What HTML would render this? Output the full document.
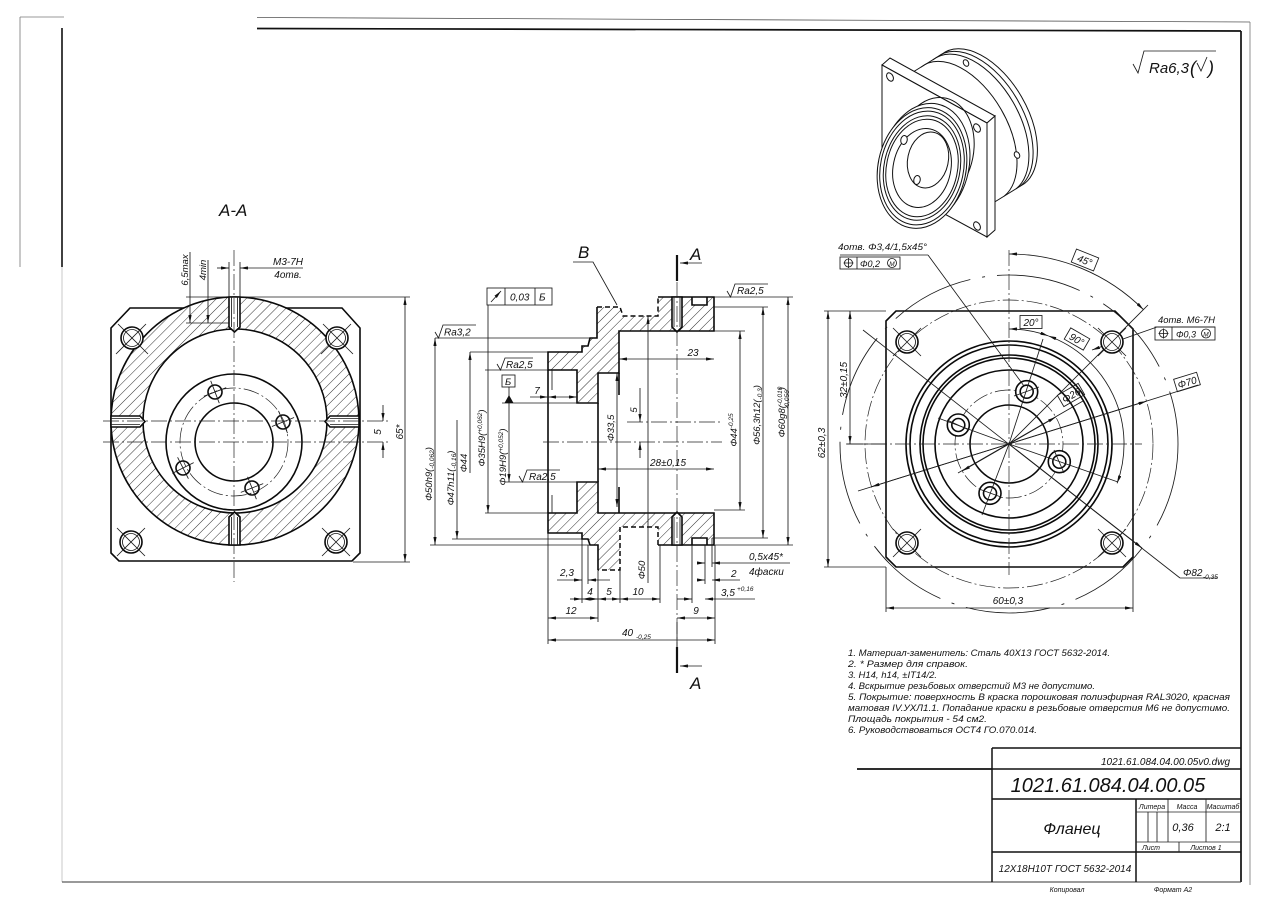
<!DOCTYPE html>
<html><head><meta charset="utf-8"><title>Фланец</title>
<style>
html,body{margin:0;padding:0;background:#fff;width:1280px;height:905px;overflow:hidden}
svg{display:block}
text{font-family:"Liberation Sans","DejaVu Sans",sans-serif;font-style:italic;fill:#111}
.k{stroke:#0a0a0a;stroke-width:1.6;fill:none}
.t{stroke:#1a1a1a;stroke-width:0.85;fill:none}
.c{stroke:#222;stroke-width:0.7;fill:none;stroke-dasharray:16 3 2 3}
.d{stroke:#0a0a0a;stroke-width:1.5;fill:none;stroke-dasharray:5 3}
.w{fill:#fff}
</style></head><body>
<svg width="1280" height="905" viewBox="0 0 1280 905" xmlns="http://www.w3.org/2000/svg">
<defs>
<marker id="a" viewBox="0 0 10 4" refX="10" refY="2" markerWidth="8" markerHeight="3.2" markerUnits="userSpaceOnUse" orient="auto-start-reverse"><path d="M0,0 L10,2 L0,4 z" fill="#111"/></marker>
<pattern id="h" width="7" height="7" patternUnits="userSpaceOnUse" patternTransform="rotate(45)"><line x1="0" y1="0" x2="0" y2="7" stroke="#1a1a1a" stroke-width="0.9"/></pattern>
</defs>

<!-- FRAME -->
<line x1="257" y1="17.5" x2="1250" y2="22" stroke="#555" stroke-width="0.8"/>
<line x1="257" y1="28.5" x2="1241" y2="31" stroke="#111" stroke-width="1.7"/>
<line x1="1241" y1="31" x2="1241" y2="882" stroke="#111" stroke-width="1.7"/>
<line x1="1250" y1="22" x2="1250" y2="885" stroke="#777" stroke-width="0.8"/>
<line x1="20" y1="17" x2="64" y2="17" stroke="#777" stroke-width="0.8"/>
<line x1="20" y1="17" x2="20" y2="267" stroke="#777" stroke-width="0.8"/>
<line x1="62" y1="28" x2="62" y2="267" stroke="#111" stroke-width="1.6"/>
<line x1="62" y1="267" x2="62" y2="882" stroke="#bbb" stroke-width="0.8"/>
<line x1="62" y1="882" x2="1241" y2="882" stroke="#333" stroke-width="1.1"/>

<!-- ===== A-A VIEW ===== -->
<text x="219" y="216" font-size="17">А-А</text>
<path class="k" d="M111,328 L130,308 L342,308 L360,328 L360,553 L352,561 L119,561 L111,553 Z"/>
<path d="M111,421 a124,124 0 1,0 248,0 a124,124 0 1,0 -248,0 Z M143,421 a92,92 0 1,0 184,0 a92,92 0 1,0 -184,0 Z" fill="#fff" fill-rule="evenodd"/>
<path d="M111,421 a124,124 0 1,0 248,0 a124,124 0 1,0 -248,0 Z M143,421 a92,92 0 1,0 184,0 a92,92 0 1,0 -184,0 Z" fill="url(#h)" fill-rule="evenodd" stroke="#0a0a0a" stroke-width="1.6"/>
<!-- M3 holes -->
<path class="k w" stroke-width="1.2" d="M229,297 L229,327 L234.5,332 L240,327 L240,297 Z"/>
<path class="t" d="M231.5,297 V327 M237.5,297 V327"/>
<path class="k w" stroke-width="1.2" d="M229,545 L229,517 L234.5,512 L240,517 L240,545 Z"/>
<path class="t" d="M231.5,545 V517 M237.5,545 V517"/>
<path class="k w" stroke-width="1.2" d="M111,416 L140,416 L145,421.5 L140,427 L111,427 Z"/>
<path class="t" d="M111,418.5 H140 M111,424.5 H140"/>
<path class="k w" stroke-width="1.2" d="M359,416 L330,416 L325,421.5 L330,427 L359,427 Z"/>
<path class="t" d="M359,418.5 H330 M359,424.5 H330"/>
<!-- inner circles -->
<circle cx="234" cy="442" r="68" class="k"/>
<circle cx="234" cy="442" r="39" class="k"/>
<circle cx="234" cy="442" r="54" class="c" stroke-dasharray="10 4 2 4"/>
<g class="k" stroke-width="1.2">
<circle cx="215" cy="392" r="7"/><circle cx="283" cy="422" r="7"/><circle cx="183" cy="468" r="7"/><circle cx="252" cy="488" r="7"/>
</g>
<g class="t">
<path d="M210.7,380.8 L219.3,403.2 M203.8,396.3 L226.2,387.7"/>
<path d="M271.9,426.5 L294.1,417.5 M278.5,410.9 L287.5,433.1"/>
<path d="M172.3,473.4 L193.7,462.6 M177.6,457.3 L188.4,478.7"/>
<path d="M247.6,476.8 L256.4,499.2 M240.8,492.4 L263.2,483.6"/>
</g>
<!-- corner holes -->
<g class="k w" stroke-width="1.2">
<circle cx="132" cy="338" r="11"/><circle cx="337" cy="338" r="11"/><circle cx="131" cy="542" r="11"/><circle cx="336" cy="542" r="11"/>
</g>
<g class="t">
<circle cx="132" cy="338" r="8.5"/><circle cx="337" cy="338" r="8.5"/><circle cx="131" cy="542" r="8.5"/><circle cx="336" cy="542" r="8.5"/>
<path d="M118,324 L148,354 M146,324 L116,354"/>
<path d="M323,324 L353,354 M351,324 L321,354"/>
<path d="M117,528 L145,556 M145,528 L117,556"/>
<path d="M322,528 L350,556 M350,528 L322,556"/>
</g>
<!-- center lines -->
<line x1="234" y1="250" x2="234" y2="582" class="c"/>
<line x1="103" y1="421" x2="388" y2="421" class="c"/>
<line x1="103" y1="442" x2="388" y2="442" class="c"/>
<!-- dims A-A -->
<g class="t">
<line x1="186" y1="297" x2="410" y2="297"/>
<line x1="186" y1="323" x2="229" y2="323"/>
<line x1="353" y1="562" x2="410" y2="562"/>
<line x1="229" y1="262" x2="229" y2="297"/>
<line x1="240" y1="262" x2="240" y2="297"/>
<line x1="217" y1="268" x2="229" y2="268" marker-end="url(#a)"/>
<line x1="303" y1="268" x2="240" y2="268" marker-end="url(#a)"/>
<line x1="190" y1="252" x2="190" y2="323" marker-end="url(#a)"/>
<line x1="208" y1="260" x2="208" y2="323" marker-end="url(#a)"/>
<line x1="405" y1="297" x2="405" y2="562" marker-start="url(#a)" marker-end="url(#a)"/>
<line x1="383" y1="405" x2="383" y2="421" marker-end="url(#a)"/>
<line x1="383" y1="458" x2="383" y2="442" marker-end="url(#a)"/>
</g>
<text x="288" y="265" font-size="10" text-anchor="middle">М3-7Н</text>
<text x="288" y="278" font-size="10" text-anchor="middle">4отв.</text>
<text transform="translate(188,270) rotate(-90)" font-size="9.5" text-anchor="middle">6,5max</text>
<text transform="translate(206,270) rotate(-90)" font-size="9.5" text-anchor="middle">4min</text>
<text transform="translate(403,432) rotate(-90)" font-size="10" text-anchor="middle">65*</text>
<text transform="translate(381,432) rotate(-90)" font-size="10" text-anchor="middle">5</text>

<!-- ===== SECTION VIEW ===== -->
<path d="M548,352 L582,352 L582,346 L588,346 L590,338 L597,338 L597,307 L620,307 L623,316 L658,316 L658,297 L714,297 L714,331 L619,331 L619,373 L598,373 L598,403 L577,403 L577,370 L548,370 Z" fill="url(#h)"/>
<path d="M548,513 L577,513 L577,482 L598,482 L598,513 L714,513 L714,545 L658,545 L658,527 L620,527 L620,570 L598,570 L598,545 L590,545 L588,539 L582,539 L582,533 L548,533 Z" fill="url(#h)"/>
<rect x="692" y="297" width="15" height="8" fill="#fff"/>
<rect x="692" y="538" width="15" height="7" fill="#fff"/>
<path class="k" stroke-width="1.1" d="M692,297 L692,305 L707,305 L707,297 M692,545 L692,538 L707,538 L707,545"/>
<path class="k" d="M658,297 L714,297 L714,331 L619,331 L619,373 L598,373 L598,403 L577,403 L577,370 L548,370 L548,352 L582,352 L582,346 L588,346 L590,338 L597,338 L597,307"/>
<path class="d" d="M597,307 L620,307 L623,316 L658,316 L658,297"/>
<path class="k" d="M598,570 L598,545 L590,545 L588,539 L582,539 L582,533 L548,533 L548,513 L577,513 L577,482 L598,482 L598,513 L714,513 L714,545 L658,545"/>
<path class="d" d="M658,545 L658,527 L620,527 L620,570 L598,570"/>
<path class="k" d="M548,370 L548,513"/>
<!-- M6 holes -->
<path class="k w" stroke-width="1.2" d="M672,297 L672,327 L677,332 L682,327 L682,297 Z"/>
<path class="t" d="M674,297 V327 M680,297 V327"/>
<path class="k w" stroke-width="1.2" d="M672,545 L672,517 L677,512 L682,517 L682,545 Z"/>
<path class="t" d="M674,545 V517 M680,545 V517"/>
<!-- inner visible edges -->
<path class="k" stroke-width="1.2" d="M619,373 V395 M619,487 V513 M598,403 V482"/>
<path class="t" d="M552,370 V390 M552,495 V513"/>
<!-- center lines -->
<line x1="677" y1="282" x2="677" y2="648" class="c"/>
<line x1="543" y1="442" x2="722" y2="442" class="c"/>
<line x1="627" y1="422" x2="722" y2="422" class="c"/>
<!-- section marks -->
<path d="M677,255 V281 M677,647 V673" stroke="#111" stroke-width="2.2"/>
<line x1="702" y1="263" x2="680" y2="263" class="t" marker-end="url(#a)"/>
<line x1="702" y1="666" x2="680" y2="666" class="t" marker-end="url(#a)"/>
<text x="690" y="260" font-size="17">А</text>
<text x="690" y="689" font-size="17">А</text>
<text x="578" y="258" font-size="17">В</text>
<path class="t" d="M573,262 L593,262 L617,305"/>
<!-- runout frame -->
<rect x="487" y="288" width="65" height="17" class="t" stroke-width="1"/>
<path class="t" stroke-width="1" d="M505,288 V305 M535,288 V305"/>
<line x1="491" y1="302" x2="501" y2="291" class="t" stroke-width="1" marker-end="url(#a)"/>
<text x="510" y="300.5" font-size="10">0,03</text>
<text x="539" y="300.5" font-size="10">Б</text>
<!-- left dims -->
<g class="t">
<line x1="488" y1="305" x2="488" y2="513" marker-end="url(#a)"/>
<line x1="435" y1="338" x2="590" y2="338"/>
<line x1="435" y1="338" x2="435" y2="545" marker-start="url(#a)" marker-end="url(#a)"/>
<line x1="430" y1="545" x2="590" y2="545"/>
<line x1="457" y1="420" x2="457" y2="539" marker-end="url(#a)"/>
<line x1="452" y1="539" x2="582" y2="539"/>
<line x1="470" y1="352" x2="548" y2="352"/>
<line x1="470" y1="352" x2="470" y2="473" marker-start="url(#a)"/>
<line x1="485" y1="370" x2="548" y2="370"/>
<line x1="485" y1="513" x2="548" y2="513"/>
<line x1="502" y1="403" x2="598" y2="403"/>
<line x1="505" y1="482" x2="598" y2="482"/>
<line x1="509" y1="403" x2="509" y2="482" marker-end="url(#a)"/>
<line x1="530" y1="397" x2="548" y2="397" marker-end="url(#a)"/>
<line x1="548" y1="397" x2="577" y2="397" marker-start="url(#a)" marker-end="url(#a)"/>
<line x1="617" y1="373" x2="617" y2="507" marker-start="url(#a)" marker-end="url(#a)"/>
<line x1="640" y1="388" x2="640" y2="422" marker-end="url(#a)"/>
<line x1="640" y1="458" x2="640" y2="442" marker-end="url(#a)"/>
<line x1="619" y1="359" x2="714" y2="359" marker-start="url(#a)" marker-end="url(#a)"/>
<line x1="598" y1="469" x2="714" y2="469" marker-start="url(#a)" marker-end="url(#a)"/>
<line x1="648" y1="316" x2="648" y2="583" marker-start="url(#a)"/>
</g>
<rect x="502" y="375" width="13" height="12" class="t" stroke-width="1"/>
<text x="505" y="385" font-size="9.5">Б</text>
<line x1="509" y1="387" x2="509" y2="397" class="t"/>
<path d="M504.5,403 L513.5,403 L509,395 Z" fill="#111"/>
<!-- Ra symbols -->
<path class="t" stroke-width="1" d="M435,332 L438.5,338 L443,325 L476,325"/>
<text x="444" y="335.5" font-size="10">Ra3,2</text>
<path class="t" stroke-width="1" d="M497,364 L500.5,370 L505,358 L533,358"/>
<text x="506" y="368" font-size="10">Ra2,5</text>
<path class="t" stroke-width="1" d="M519,476 L522.5,482 L527,470 L560,470"/>
<text x="529" y="480" font-size="10">Ra2,5</text>
<path class="t" stroke-width="1" d="M727,291 L730.5,297 L735,284 L768,284"/>
<text x="737" y="294" font-size="10">Ra2,5</text>
<!-- right dims -->
<g class="t">
<line x1="714" y1="297" x2="793" y2="297"/>
<line x1="714" y1="307" x2="768" y2="307"/>
<line x1="714" y1="331" x2="745" y2="331"/>
<line x1="714" y1="510" x2="745" y2="510"/>
<line x1="712" y1="538" x2="768" y2="538"/>
<line x1="715" y1="545" x2="793" y2="545"/>
<line x1="740" y1="331" x2="740" y2="510" marker-start="url(#a)" marker-end="url(#a)"/>
<line x1="763" y1="307" x2="763" y2="538" marker-start="url(#a)" marker-end="url(#a)"/>
<line x1="788" y1="297" x2="788" y2="545" marker-start="url(#a)" marker-end="url(#a)"/>
</g>
<text transform="translate(737,430) rotate(-90)" font-size="9.5" text-anchor="middle">Φ44<tspan font-size="6.5" dy="-4">-0,25</tspan></text>
<text transform="translate(760,415) rotate(-90)" font-size="9.5" text-anchor="middle">Φ56,3h12(<tspan font-size="6.5" dy="2">-0,3</tspan><tspan dy="-2">)</tspan></text>
<text transform="translate(785,412) rotate(-90)" font-size="9.5" text-anchor="middle">Φ60g8(<tspan font-size="6.5" dy="-3">-0,010</tspan><tspan font-size="6.5" dx="-22" dy="7">-0,056</tspan><tspan dy="-4">)</tspan></text>
<text transform="translate(432,474) rotate(-90)" font-size="9.5" text-anchor="middle">Φ50h9(<tspan font-size="6.5" dy="2">-0,062</tspan><tspan dy="-2">)</tspan></text>
<text transform="translate(454,478) rotate(-90)" font-size="9.5" text-anchor="middle">Φ47h11(<tspan font-size="6.5" dy="2">-0,16</tspan><tspan dy="-2">)</tspan></text>
<text transform="translate(467,463) rotate(-90)" font-size="9.5" text-anchor="middle">Φ44</text>
<text transform="translate(485,438) rotate(-90)" font-size="9.5" text-anchor="middle">Φ35H9(<tspan font-size="6.5" dy="-3">+0,062</tspan><tspan dy="3">)</tspan></text>
<text transform="translate(506,457) rotate(-90)" font-size="9.5" text-anchor="middle">Φ19H9(<tspan font-size="6.5" dy="-3">+0,052</tspan><tspan dy="3">)</tspan></text>
<text transform="translate(614,428) rotate(-90)" font-size="9.5" text-anchor="middle">Φ33,5</text>
<text transform="translate(637,410) rotate(-90)" font-size="9.5" text-anchor="middle">5</text>
<text transform="translate(645,570) rotate(-90)" font-size="9.5" text-anchor="middle">Φ50</text>
<text x="537" y="394" font-size="10" text-anchor="middle">7</text>
<text x="693" y="356" font-size="10" text-anchor="middle">23</text>
<text x="668" y="466" font-size="10" text-anchor="middle">28±0,15</text>
<!-- bottom dims -->
<g class="t">
<line x1="548" y1="533" x2="548" y2="644"/>
<line x1="715" y1="545" x2="715" y2="644"/>
<line x1="582" y1="539" x2="582" y2="603"/>
<line x1="588" y1="545" x2="588" y2="584"/>
<line x1="598" y1="570" x2="598" y2="622"/>
<line x1="620" y1="570" x2="620" y2="603"/>
<line x1="660" y1="545" x2="660" y2="603"/>
<line x1="677" y1="648" x2="677" y2="622"/>
<line x1="692" y1="545" x2="692" y2="603"/>
<line x1="705" y1="545" x2="705" y2="584"/>
<line x1="712" y1="538" x2="712" y2="567"/>
<line x1="557" y1="580" x2="582" y2="580" marker-end="url(#a)"/>
<line x1="610" y1="580" x2="588" y2="580" marker-end="url(#a)"/>
<line x1="570" y1="599" x2="582" y2="599" marker-end="url(#a)"/>
<line x1="582" y1="599" x2="598" y2="599" marker-start="url(#a)" marker-end="url(#a)"/>
<line x1="598" y1="599" x2="620" y2="599" marker-start="url(#a)" marker-end="url(#a)"/>
<line x1="620" y1="599" x2="660" y2="599" marker-start="url(#a)" marker-end="url(#a)"/>
<line x1="548" y1="618" x2="598" y2="618" marker-start="url(#a)" marker-end="url(#a)"/>
<line x1="677" y1="618" x2="715" y2="618" marker-start="url(#a)" marker-end="url(#a)"/>
<line x1="548" y1="640" x2="715" y2="640" marker-start="url(#a)" marker-end="url(#a)"/>
<line x1="698" y1="563" x2="705" y2="563" marker-end="url(#a)"/>
<line x1="790" y1="563" x2="712" y2="563" marker-end="url(#a)"/>
<line x1="698" y1="580" x2="705" y2="580" marker-end="url(#a)"/>
<line x1="740" y1="580" x2="712" y2="580" marker-end="url(#a)"/>
<line x1="677" y1="599" x2="692" y2="599" marker-end="url(#a)"/>
<line x1="755" y1="599" x2="705" y2="599" marker-end="url(#a)"/>
</g>
<text x="567" y="576" font-size="10" text-anchor="middle">2,3</text>
<text x="590" y="595" font-size="10" text-anchor="middle">4</text>
<text x="609" y="595" font-size="10" text-anchor="middle">5</text>
<text x="638" y="595" font-size="10" text-anchor="middle">10</text>
<text x="571" y="614" font-size="10" text-anchor="middle">12</text>
<text x="696" y="614" font-size="10" text-anchor="middle">9</text>
<text x="622" y="636" font-size="10">40</text><text x="636" y="639" font-size="6.5">-0,25</text>
<text x="749" y="560" font-size="10">0,5x45*</text>
<text x="749" y="575" font-size="10">4фаски</text>
<text x="731" y="577" font-size="10">2</text>
<text x="721" y="596" font-size="10">3,5</text><text x="737" y="591" font-size="6.5">+0,16</text>

<!-- ===== RIGHT VIEW ===== -->
<path class="k" d="M886,321 L896,311 L1115,311 L1133,329 L1133,557 L1123,567 L896,567 L886,557 Z"/>
<g class="k">
<circle cx="1009" cy="444" r="103"/><circle cx="1009" cy="444" r="99"/>
<circle cx="1009" cy="444" r="89"/><circle cx="1009" cy="444" r="86"/>
<circle cx="1009" cy="444" r="74"/><circle cx="1009" cy="444" r="39"/>
</g>
<circle cx="1009" cy="444" r="54" class="c" stroke-dasharray="14 4 2 4"/>
<circle cx="1009" cy="444" r="144" class="c" stroke-dasharray="22 8 3 8"/>
<circle cx="1009" cy="444" r="169" class="t" stroke-dasharray="85 12 3 12"/>
<!-- bolt holes -->
<g class="k w" stroke-width="1.2">
<circle cx="1026.7" cy="391.7" r="11"/><circle cx="958.3" cy="425" r="11"/><circle cx="1059.3" cy="461.7" r="11"/><circle cx="990" cy="493.3" r="11"/>
</g>
<g class="k" stroke-width="1.1">
<circle cx="1026.7" cy="391.7" r="6.5"/><circle cx="958.3" cy="425" r="6.5"/><circle cx="1059.3" cy="461.7" r="6.5"/><circle cx="990" cy="493.3" r="6.5"/>
</g>
<g class="t">
<line x1="1009" y1="444" x2="1043" y2="339"/>
<line x1="1009" y1="444" x2="938" y2="418"/>
<line x1="1009" y1="444" x2="1118" y2="482"/>
<line x1="1009" y1="444" x2="982" y2="515"/>
<path d="M1014,396 L1039,387 M947,420 L969,430 M1054,450 L1064,473 M979,489 L1001,497"/>
<line x1="1009" y1="444" x2="1148" y2="305"/>
<line x1="863" y1="330" x2="1180" y2="578"/>
<line x1="1180" y1="578" x2="1218" y2="578"/>
<line x1="1009" y1="444" x2="1142" y2="548" marker-end="url(#a)"/>
<line x1="858" y1="491" x2="1198" y2="385"/>
<line x1="1009" y1="444" x2="1146.5" y2="401.2" marker-end="url(#a)"/>
<line x1="1009" y1="444" x2="871.5" y2="486.8" marker-end="url(#a)"/>
<line x1="958" y1="473" x2="1083" y2="401"/>
<line x1="1009" y1="444" x2="1055.8" y2="417" marker-end="url(#a)"/>
<line x1="1009" y1="444" x2="962.2" y2="471" marker-end="url(#a)"/>
<path d="M1009,254 A190,190 0 0,1 1143.4,309.6" marker-start="url(#a)" marker-end="url(#a)"/>
<path d="M1009,329 A115,115 0 0,1 1048.3,335.9" marker-start="url(#a)" marker-end="url(#a)"/>
<path d="M1048.3,335.9 A115,115 0 0,1 1117.1,483.3" marker-start="url(#a)" marker-end="url(#a)"/>
<path d="M928,255 L840,255 M928,255 L1024,386"/>
<line x1="1157" y1="327" x2="1092" y2="350" marker-end="url(#a)"/>
<line x1="1157" y1="327" x2="1215" y2="327"/>
</g>
<!-- corner holes -->
<g class="k w" stroke-width="1.2">
<circle cx="907" cy="342" r="11"/><circle cx="1112" cy="342" r="11"/><circle cx="907" cy="543" r="11"/><circle cx="1112" cy="543" r="11"/>
</g>
<g class="t">
<circle cx="907" cy="342" r="8.5"/><circle cx="1112" cy="342" r="8.5"/><circle cx="907" cy="543" r="8.5"/><circle cx="1112" cy="543" r="8.5"/>
<path d="M893,328 L921,356 M921,328 L893,356 M1098,328 L1126,356 M1126,328 L1098,356 M893,529 L921,557 M921,529 L893,557 M1098,529 L1126,557 M1126,529 L1098,557"/>
</g>
<!-- center lines -->
<line x1="1009" y1="250" x2="1009" y2="575" class="c"/>
<line x1="847" y1="444" x2="1142" y2="444" class="c"/>
<!-- dims -->
<g class="t">
<line x1="824" y1="311" x2="886" y2="311"/>
<line x1="824" y1="567" x2="886" y2="567"/>
<line x1="846" y1="444" x2="886" y2="444"/>
<line x1="828" y1="311" x2="828" y2="567" marker-start="url(#a)" marker-end="url(#a)"/>
<line x1="850" y1="311" x2="850" y2="444" marker-start="url(#a)" marker-end="url(#a)"/>
<line x1="886" y1="567" x2="886" y2="612"/>
<line x1="1133" y1="557" x2="1133" y2="612"/>
<line x1="886" y1="608" x2="1133" y2="608" marker-start="url(#a)" marker-end="url(#a)"/>
</g>
<text transform="translate(825,443) rotate(-90)" font-size="10" text-anchor="middle">62±0,3</text>
<text transform="translate(847,380) rotate(-90)" font-size="10" text-anchor="middle">32±0,15</text>
<text x="1008" y="604" font-size="10" text-anchor="middle">60±0,3</text>
<text x="1183" y="576" font-size="10">Φ82</text><text x="1203" y="579" font-size="6.5">-0,35</text>
<!-- boxed labels -->
<g transform="translate(1085,260) rotate(22)"><rect x="-12" y="-7" width="24" height="14" class="t" fill="#fff"/><text x="0" y="4" text-anchor="middle" font-size="10">45°</text></g>
<g transform="translate(1031,322)"><rect x="-11" y="-6.5" width="22" height="13" class="t" fill="#fff"/><text x="0" y="4" text-anchor="middle" font-size="10">20°</text></g>
<g transform="translate(1077,339) rotate(30)"><rect x="-11" y="-6.5" width="22" height="13" class="t" fill="#fff"/><text x="0" y="4" text-anchor="middle" font-size="10">90°</text></g>
<g transform="translate(1071,395) rotate(-30)"><rect x="-12" y="-6.5" width="24" height="13" class="t" fill="#fff"/><text x="0" y="4" text-anchor="middle" font-size="10">Φ26</text></g>
<g transform="translate(1187,382) rotate(-17)"><rect x="-12" y="-6.5" width="24" height="13" class="t" fill="#fff"/><text x="0" y="4" text-anchor="middle" font-size="10">Φ70</text></g>
<!-- tolerance frames -->
<text x="838" y="250" font-size="9.5" textLength="89" lengthAdjust="spacingAndGlyphs">4отв. Φ3,4/1,5x45°</text>
<rect x="840" y="257" width="60" height="12" class="t" stroke-width="1"/>
<line x1="857" y1="257" x2="857" y2="269" class="t"/>
<circle cx="848.5" cy="263" r="4" class="t"/><path class="t" d="M843.5,263 H853.5 M848.5,258 V268"/>
<text x="860" y="267" font-size="9">Φ0,2</text>
<circle cx="892" cy="263" r="4.5" class="t"/><text x="892" y="266" font-size="6.5" text-anchor="middle">M</text>
<text x="1158" y="323" font-size="9.5" textLength="57" lengthAdjust="spacingAndGlyphs">4отв. М6-7Н</text>
<rect x="1155" y="327" width="60" height="13" class="t" stroke-width="1"/>
<line x1="1172" y1="327" x2="1172" y2="340" class="t"/>
<circle cx="1163.5" cy="333.5" r="4" class="t"/><path class="t" d="M1158.5,333.5 H1168.5 M1163.5,328.5 V338.5"/>
<text x="1176" y="337.5" font-size="9">Φ0,3</text>
<circle cx="1206" cy="333.5" r="4.5" class="t"/><text x="1206" y="336.5" font-size="6.5" text-anchor="middle">M</text>

<!-- ===== ISO VIEW ===== -->
<g stroke="#111" stroke-width="1" fill="#fff">
<path d="M900.9,79.5 L941.4,54.5 A44.5,77 -30 0,1 1021.5,96.75 A44.5,77 -30 0,1 1024.6,183.5 L984.1,208.5 Z"/>
<path fill="none" d="M937.1,57.1 A44.5,77 -30 0,1 1017.2,99.35 A44.5,77 -30 0,1 1020.3,186.1"/>
<path fill="none" d="M932.9,59.8 A44.5,77 -30 0,1 1013,102.05 A44.5,77 -30 0,1 1016.1,188.8"/>
<path fill="none" d="M921,67.1 A44.5,77 -30 0,1 1001.1,109.35 A44.5,77 -30 0,1 1004.2,196.1"/>
<ellipse cx="966" cy="63" rx="2.5" ry="3.5" transform="rotate(-30 966 63)"/>
<ellipse cx="1017" cy="155" rx="2.5" ry="3.5" transform="rotate(-30 1017 155)"/>
<path d="M882,65 L890,58 L995,116 L987,123 Z"/>
<path d="M987,123 L995,116 L995,230 L987,237 Z"/>
<path d="M882,65 L987,123 L987,237 L882,180 Z"/>
<ellipse cx="890" cy="77" rx="3" ry="4.5" transform="rotate(-30 890 77)"/>
<ellipse cx="977" cy="128" rx="3" ry="4.5" transform="rotate(-30 977 128)"/>
<ellipse cx="977" cy="226" rx="3" ry="4.5" transform="rotate(-30 977 226)"/>
<path stroke="none" d="M960.7,186 L908.3,116 L895.8,133 L948.2,203 Z"/>
<path fill="none" d="M908.3,116 A38.9,54 12 0,1 964.3,110.6 A38.9,54 12 0,1 960.7,186"/>
<path fill="none" d="M908.3,116 L895.8,133 M960.7,186 L948.2,203"/>
<ellipse cx="925.1" cy="163.75" rx="44" ry="61" transform="rotate(12 925.1 163.75)"/>
<ellipse cx="922" cy="168" rx="44" ry="61" transform="rotate(12 922 168)"/>
<ellipse cx="922" cy="168" rx="41.5" ry="57.5" fill="none" transform="rotate(12 922 168)"/>
<ellipse cx="922" cy="168" rx="38" ry="52.8" fill="none" transform="rotate(12 922 168)"/>
<ellipse cx="922" cy="168" rx="35.5" ry="49.3" fill="none" transform="rotate(12 922 168)"/>
<ellipse cx="922" cy="168" rx="28.8" ry="39.9" transform="rotate(12 922 168)"/>
<ellipse cx="928" cy="160" rx="20.3" ry="28.2" transform="rotate(12 928 160)"/>
<ellipse cx="904" cy="140" rx="3.2" ry="4.5" transform="rotate(12 904 140)"/>
<ellipse cx="917" cy="180" rx="3.2" ry="4.5" transform="rotate(12 917 180)"/>
</g>

<!-- roughness -->
<path class="t" stroke-width="1.1" d="M1133,64 L1138,73 L1144,51 L1216,51"/>
<text x="1149" y="73" font-size="15">Ra6,3</text>
<text x="1190" y="74" font-size="18" font-style="normal">(</text>
<path class="t" stroke-width="1.1" d="M1197,63 L1201,71 L1207,57"/>
<text x="1208" y="74" font-size="18" font-style="normal">)</text>

<!-- ===== NOTES ===== -->
<g font-size="9.5">
<text x="848" y="656" textLength="262" lengthAdjust="spacingAndGlyphs">1. Материал-заменитель: Сталь 40Х13 ГОСТ 5632-2014.</text>
<text x="848" y="667" textLength="120" lengthAdjust="spacingAndGlyphs">2. * Размер для справок.</text>
<text x="848" y="678" textLength="89" lengthAdjust="spacingAndGlyphs">3. Н14, h14, ±IT14/2.</text>
<text x="848" y="689" textLength="247" lengthAdjust="spacingAndGlyphs">4. Вскрытие резьбовых отверстий М3 не допустимо.</text>
<text x="848" y="700" textLength="382" lengthAdjust="spacingAndGlyphs">5. Покрытие: поверхность В краска порошковая полиэфирная RAL3020, красная</text>
<text x="848" y="711" textLength="382" lengthAdjust="spacingAndGlyphs">матовая IV.УХЛ1.1.  Попадание краски в резьбовые отверстия М6 не допустимо.</text>
<text x="848" y="722" textLength="139" lengthAdjust="spacingAndGlyphs">Площадь покрытия - 54 см2.</text>
<text x="848" y="733" textLength="189" lengthAdjust="spacingAndGlyphs">6. Руководствоваться ОСТ4 ГО.070.014.</text>
</g>

<!-- ===== TITLE BLOCK ===== -->
<line x1="857" y1="769" x2="992" y2="769" stroke="#111" stroke-width="1.7"/>
<g stroke="#111" stroke-width="1.5" fill="none">
<path d="M992,748 L992,882 M992,769 L1241,769 M992,748 L1241,748 M992,799 L1241,799 M992,852 L1241,852 M1136,799 L1136,882"/>
</g>
<g stroke="#222" stroke-width="0.85" fill="none">
<path d="M1136,812 L1241,812 M1136,842 L1241,842 M1168,799 L1168,842 M1206,799 L1206,842 M1179,842 L1179,852 M1148,812 L1148,842 M1157,812 L1157,842"/>
</g>
<text x="1230" y="765" font-size="10" text-anchor="end">1021.61.084.04.00.05v0.dwg</text>
<text x="1108" y="792" font-size="20" text-anchor="middle">1021.61.084.04.00.05</text>
<text x="1072" y="834" font-size="16" text-anchor="middle">Фланец</text>
<text x="1065" y="872" font-size="10" text-anchor="middle">12Х18Н10Т ГОСТ 5632-2014</text>
<text x="1152" y="809" font-size="7" text-anchor="middle">Литера</text>
<text x="1187" y="809" font-size="7" text-anchor="middle">Масса</text>
<text x="1223" y="809" font-size="7" text-anchor="middle">Масштаб</text>
<text x="1183" y="831" font-size="11" text-anchor="middle">0,36</text>
<text x="1223" y="831" font-size="11" text-anchor="middle">2:1</text>
<text x="1151" y="850" font-size="7" text-anchor="middle">Лист</text>
<text x="1206" y="850" font-size="7" text-anchor="middle">Листов 1</text>
<text x="1067" y="892" font-size="7" text-anchor="middle">Копировал</text>
<text x="1173" y="892" font-size="7" text-anchor="middle">Формат А2</text>
</svg>
</body></html>
